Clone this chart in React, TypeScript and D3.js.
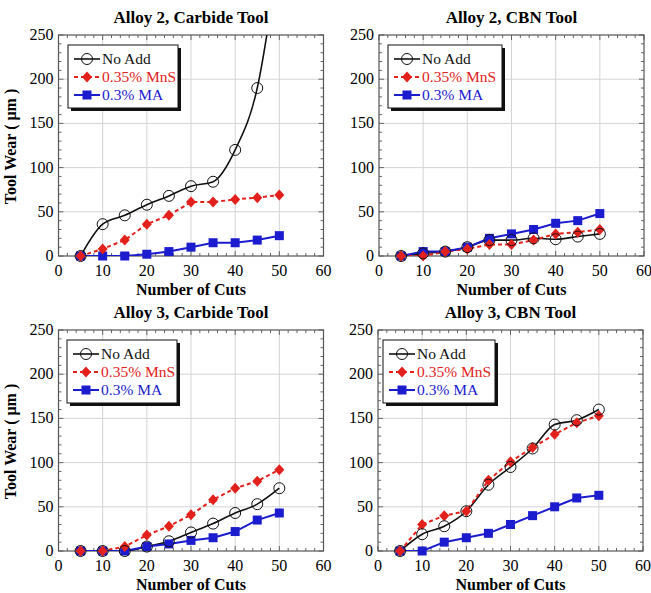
import React from 'react'
import * as d3 from 'd3'

// cuts on the x axis
const cuts = [5, 10, 15, 20, 25, 30, 35, 40, 45, 50]

const seriesNames = ['No Add', '0.35% MnS', '0.3% MA']
const seriesColors = ['#111111', '#e3211c', '#1c1ccf']

const titles = ['Alloy 2, Carbide Tool', 'Alloy 2, CBN Tool', 'Alloy 3, Carbide Tool', 'Alloy 3, CBN Tool']

// Alloy 2, Carbide (last No Add point is off the chart)
const a2CarbNoAdd = [0, 36, 46, 58, 68, 79, 84, 120, 190, 345]
const a2CarbMnS = [0, 8, 18, 36, 46, 61, 61, 64, 66, 69]
const a2CarbMA = [0, 0, 0, 2, 5, 10, 15, 15, 18, 23]

// Alloy 2, CBN
const a2CbnNoAdd = [0, 3, 5, 10, 18, 18, 20, 19, 22, 25]
const a2CbnMnS = [0, 0, 5, 8, 13, 13, 18, 25, 27, 30]
const a2CbnMA = [0, 5, 5, 10, 20, 25, 30, 37, 40, 48]

// Alloy 3, Carbide
const a3CarbNoAdd = [0, 0, 0, 5, 11, 21, 31, 43, 53, 71]
const a3CarbMnS = [0, 0, 5, 18, 28, 41, 58, 71, 79, 92]
const a3CarbMA = [0, 0, 0, 5, 8, 12, 15, 22, 35, 43]

// Alloy 3, CBN
const a3CbnNoAdd = [0, 19, 28, 45, 75, 95, 116, 143, 148, 160]
const a3CbnMnS = [0, 30, 40, 45, 80, 101, 117, 132, 145, 153]
const a3CbnMA = [0, 0, 10, 15, 20, 30, 40, 50, 60, 63]

const xTicks = [0, 10, 20, 30, 40, 50, 60]
const yTicks = [0, 50, 100, 150, 200, 250]

const panelData = [
  [a2CarbNoAdd, a2CarbMnS, a2CarbMA],
  [a2CbnNoAdd, a2CbnMnS, a2CbnMA],
  [a3CarbNoAdd, a3CarbMnS, a3CarbMA],
  [a3CbnNoAdd, a3CbnMnS, a3CbnMA],
]

const panelPos = [
  { left: 58.5, top: 35, legX: 68, legW: 110 },
  { left: 379, top: 35, legX: 388, legW: 114 },
  { left: 58.5, top: 330, legX: 67, legW: 110 },
  { left: 378, top: 330, legX: 383, legW: 112 },
]
const W = 265
const H = 221
const font = 'Liberation Serif, DejaVu Serif, Times New Roman, serif'

function Marker({ kind, x, y }) {
  if (kind === 0)
    return <circle cx={x} cy={y} r={5.5} fill="none" stroke={seriesColors[0]} strokeWidth={1} />
  if (kind === 1)
    return <path d={`M${x},${y - 5.5}L${x + 5},${y}L${x},${y + 5.5}L${x - 5},${y}Z`} fill={seriesColors[1]} />
  return <rect x={x - 4.5} y={y - 4.5} width={9} height={9} fill={seriesColors[2]} />
}

function Panel({ idx }) {
  const p = panelPos[idx]
  const x = d3.scaleLinear().domain([0, 60]).range([0, W])
  const y = d3.scaleLinear().domain([0, 250]).range([H, 0])
  const clipId = 'clip' + idx
  const minorX = d3.range(0, 61, 2)
  const minorY = d3.range(0, 251, 10)

  return (
    <g transform={`translate(${p.left},${p.top})`} style={{ fontFamily: font }}>
      <text x={W / 2} y={-12} textAnchor="middle" fontWeight="bold" fontSize={17}>{titles[idx]}</text>
      {/* grid */}
      {xTicks.slice(1, -1).map(t => (
        <line key={'gx' + t} x1={x(t)} x2={x(t)} y1={0} y2={H} stroke="#d4d4d4" strokeWidth={1} />
      ))}
      {yTicks.slice(1, -1).map(t => (
        <line key={'gy' + t} x1={0} x2={W} y1={y(t)} y2={y(t)} stroke="#d4d4d4" strokeWidth={1} />
      ))}
      {/* minor ticks */}
      {minorX.map(t => {
        const len = t % 10 === 0 ? 5 : 3
        return (
          <g key={'mx' + t}>
            <line x1={x(t)} x2={x(t)} y1={H} y2={H - len} stroke="#666" />
            <line x1={x(t)} x2={x(t)} y1={0} y2={len} stroke="#666" />
          </g>
        )
      })}
      {minorY.map(t => {
        const len = t % 50 === 0 ? 5 : 3
        return (
          <g key={'my' + t}>
            <line x1={0} x2={len} y1={y(t)} y2={y(t)} stroke="#666" />
            <line x1={W} x2={W - len} y1={y(t)} y2={y(t)} stroke="#666" />
          </g>
        )
      })}
      <rect x={0} y={0} width={W} height={H} fill="none" stroke="#555" strokeWidth={1.2} />
      {/* tick labels */}
      {xTicks.map(t => (
        <text key={'tx' + t} x={x(t)} y={H + 20} textAnchor="middle" fontSize={16}>{t}</text>
      ))}
      {yTicks.map(t => (
        <text key={'ty' + t} x={-5} y={y(t) + 5} textAnchor="end" fontSize={16}>{t}</text>
      ))}
      <text x={W / 2} y={H + 39} textAnchor="middle" fontWeight="bold" fontSize={16}>Number of Cuts</text>
      {idx % 2 === 0 && (
        <text transform={`translate(${-43},${H / 2 + 1}) rotate(-90)`} textAnchor="middle" fontWeight="bold" fontSize={16}>Tool Wear ( μm )</text>
      )}
      <defs>
        <clipPath id={clipId}><rect x={0} y={0} width={W} height={H} /></clipPath>
      </defs>
      <g clipPath={`url(#${clipId})`}>
        {panelData[idx].map((vals, s) => {
          const pts = cuts.map((c, i) => [c, vals[i]])
          const line = d3.line()
            .x(d => x(d[0]))
            .y(d => y(d[1]))
            .curve(s === 0 ? d3.curveMonotoneX : d3.curveLinear)
          return (
            <path key={'l' + s} d={line(pts)} fill="none" stroke={seriesColors[s]} strokeWidth={s === 0 ? 1.6 : 2}
              strokeDasharray={s === 1 ? '4,3' : null} />
          )
        })}
      </g>
      {[2, 1, 0].map(s => (
        <g key={'m' + s}>
          {cuts.map((c, i) => panelData[idx][s][i] <= 250 ? (
            <Marker key={i} kind={s} x={x(c)} y={y(panelData[idx][s][i])} />
          ) : null)}
        </g>
      ))}
      {/* legend */}
      <g transform={`translate(${p.legX - p.left},10)`}>
        <rect x={3} y={3} width={p.legW} height={63} fill="#111" />
        <rect x={0} y={0} width={p.legW} height={63} fill="#fff" stroke="#111" strokeWidth={1} />
        {seriesNames.map((n, s) => (
          <g key={'lg' + s} transform={`translate(0,${14 + s * 18})`}>
            <line x1={6} x2={32} y1={0} y2={0} stroke={seriesColors[s]} strokeWidth={s === 0 ? 1.6 : 2}
              strokeDasharray={s === 1 ? '4,3' : null} />
            <Marker kind={s} x={19} y={0} />
            <text x={34} y={5} fontSize={15.5} fill={seriesColors[s]}>{n}</text>
          </g>
        ))}
      </g>
    </g>
  )
}

export default function App() {
  return (
    <svg width={651} height={593} style={{ position: 'absolute', left: 0, top: 0, background: '#fff' }}>
      <rect width={651} height={593} fill="#fff" />
      {[0, 1, 2, 3].map(i => <Panel key={i} idx={i} />)}
    </svg>
  )
}
